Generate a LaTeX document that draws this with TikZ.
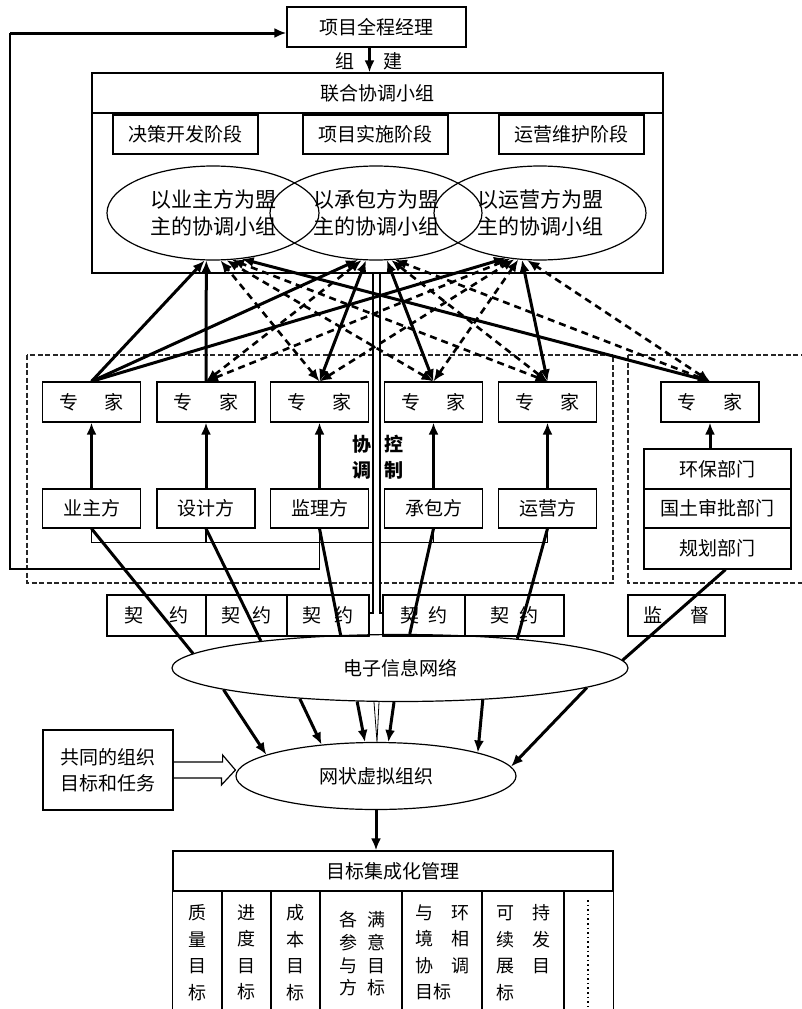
\documentclass[tikz,border=0pt]{standalone}
\usepackage{fontspec}
\setmainfont{Noto Sans CJK SC}
\usepackage{tikz}
\usetikzlibrary{arrows.meta,shapes.geometric}

\newcommand{\mfont}{\fontsize{19pt}{26pt}\selectfont}
\newcommand{\efont}{\fontsize{21pt}{27pt}\selectfont}
\newcommand{\tfont}{\fontsize{18pt}{26.5pt}\selectfont}
\newcommand{\sfont}{\fontsize{18pt}{22.7pt}\selectfont}

\tikzset{
	box/.style={draw, line width=1.2pt, inner sep=0pt, font=\mfont},
	oval/.style={draw, ellipse, line width=1.2pt, inner sep=0pt},
	wire/.style={line width=1.2pt},
	heavy/.style={line width=3pt},
	link/.style={line width=3pt, -{Latex[length=12pt,width=10pt]}},
	blink/.style={line width=3pt, {Latex[length=12pt,width=10pt]}-{Latex[length=12pt,width=10pt]}},
	dlink/.style={line width=2.6pt, dash pattern=on 7pt off 5pt, {Latex[length=12pt,width=10pt]}-{Latex[length=12pt,width=10pt]}},
	frame/.style={line width=2.2pt, dash pattern=on 5pt off 2.5pt, black!85}
}

\begin{document}
\begin{tikzpicture}[x=1pt,y=-1pt]
	\useasboundingbox (0,0) rectangle (802,1009);
	\clip (0,0) rectangle (802,1009);

	% Manager and joint group
	\node[box, minimum width=179pt, minimum height=40pt] (mgr) at (376.5,27) {项目全程经理};
	\node[box, minimum width=571pt, minimum height=200pt] (jointbox) at (377.5,173) {};
	\node[box, minimum width=571pt, minimum height=40pt] (joint) at (377.5,93) {联合协调小组};
	\draw[link] ([xshift=-7pt]mgr.south) -- ([xshift=-7pt]mgr.south |- joint.north);
	\node[font=\mfont] (zu) at (345,61) {组};
	\node[font=\mfont] (jian) at (393,61) {建};

	% Stages
	\node[box, minimum width=145pt, minimum height=39pt] (st1) at (185.5,134.5) {决策开发阶段};
	\node[box, minimum width=145pt, minimum height=39pt] (st2) at (375.5,134.5) {项目实施阶段};
	\node[box, minimum width=145pt, minimum height=39pt] (st3) at (571.5,134.5) {运营维护阶段};

	% Alliance groups
	\node[oval, minimum width=212pt, minimum height=94pt, font=\efont, align=left] (ell1) at (213,213) {以业主方为盟\\主的协调小组};
	\node[oval, minimum width=212pt, minimum height=94pt, font=\efont, align=left] (ell2) at (376,213) {以承包方为盟\\主的协调小组};
	\node[oval, minimum width=212pt, minimum height=94pt, font=\efont, align=left] (ell3) at (540,213) {以运营方为盟\\主的协调小组};

	% Dashed frames
	\draw[frame] (27,355) rectangle (613,583);
	\draw[frame] (628,355) rectangle (815,583);

	% Parties and experts
	\foreach \i/\x/\lbl in {1/91.5/业主方, 2/206/设计方, 3/319.5/监理方, 4/433.5/承包方, 5/547.5/运营方}{
		\node[box, minimum width=98pt, minimum height=40pt] (ex\i) at (\x,402) {专\hspace{1.4em}家};
		\node[box, minimum width=98pt, minimum height=39pt] (p\i) at (\x,508.5) {\lbl};
		\draw[link] (p\i) -- (ex\i);
		\draw[wire] (p\i.south) -- ++(0,14);
	}
	\node[box, minimum width=98pt, minimum height=40pt] (ex6) at (710,402) {专\hspace{1.4em}家};
	\node[box, minimum width=147pt, minimum height=40pt] (g1) at (717.5,469) {环保部门};
	\node[box, minimum width=147pt, minimum height=39pt] (g2) at (717.5,508.5) {国土审批部门};
	\node[box, minimum width=147pt, minimum height=41pt] (g3) at (717.5,548.5) {规划部门};
	\draw[link] (ex6.south |- g1.north) -- (ex6.south);

	% Bracket and feedback loop
	\draw[wire] ([yshift=-14pt]p1.south) -- ([yshift=-14pt]p5.south);
	\coordinate (fb1) at (10,569);
	\coordinate (fb2) at (10,33);
	\draw[wire] (p3.south) |- (fb1) -- (fb2);
	\draw[link] (fb2) -- (fb2 -| mgr.west);

	% Contracts
	\foreach \i/\x/\w/\g in {1/156.5/99pt/1.4em, 2/246.5/81pt/0.6em, 3/328/82pt/0.7em, 4/424/82pt/0.5em, 5/514.5/99pt/0.5em}
		\node[box, minimum width=\w, minimum height=41pt] (c\i) at (\x,615.5) {契\hspace{\g}约};
	\node[box, minimum width=97pt, minimum height=41pt] (jd) at (676.5,615.5) {监\hspace{1.5em}督};

	% Central channel
	\fill[white] (373,274) -- (373,613) -- (369,613) -- (369,636) -- (383,636) -- (383,613) -- (380,613) -- (380,274) -- cycle;
	\draw[wire] (373,274) -- (373,613) -- (369,613) -- (369,636);
	\draw[wire] (380,274) -- (380,613) -- (383,613) -- (383,636);
	\node[font=\mfont\bfseries, align=center] (xt) at (362,457) {协\\调};
	\node[font=\mfont\bfseries, align=center] (kz) at (394,457) {控\\制};

	% Owner's expert
	\draw[link] (ex1.north) -- (ell1.260);
	\draw[link] (ex1.north) -- (ell2.249);
	\draw[link] (ex1.north) -- (ell3.233);
	% Designer's expert
	\draw[link] (ex2.north) -- (ell1.262);
	\draw[dlink] (ex2.north) -- (ell2.253);
	\draw[dlink] (ex2.north) -- (ell3.237);
	% Supervisor's expert
	\draw[dlink] (ex3.north) -- (ell1.279);
	\draw[blink] (ex3.north) -- (ell2.258);
	\draw[dlink] (ex3.north) -- (ell3.241);
	% Contractor's expert
	\draw[dlink] (ex4.north) -- (ell1.286);
	\draw[blink] (ex4.north) -- (ell2.283);
	\draw[dlink] (ex4.north) -- (ell3.245);
	% Operator's expert
	\draw[dlink] (ex5.north) -- (ell1.292);
	\draw[dlink] (ex5.north) -- (ell2.288);
	\draw[blink] (ex5.north) -- (ell3.249);
	% Government expert
	\draw[blink] (ex6.north) -- (ell1.302);
	\draw[dlink] (ex6.north) -- (ell2.292);
	\draw[dlink] (ex6.north) -- (ell3.255);

	% Network
	\node[oval, minimum width=456pt, minimum height=67pt, font=\mfont] (net) at (400,668) {电子信息网络};
	\foreach \i/\a in {1/176, 2/169, 3/151, 4/74, 5/14}
		\draw[heavy] (p\i.south) -- (net.\a);
	\draw[heavy] ([xshift=8pt]g3.south) -- (net.2);

	% Virtual organisation
	\node[oval, minimum width=280pt, minimum height=67pt, font=\mfont] (vorg) at (376,776) {网状虚拟组织};
	\draw[link] (net.187) -- (vorg.169);
	\draw[link] (net.197) -- (vorg.150);
	\draw[link] (net.218) -- (vorg.108);
	\draw[link] (net.260) -- (vorg.70);
	\draw[link] (net.339) -- (vorg.13);
	\draw[link] (net.354) -- (vorg.4);
	\draw[line width=0.8pt] ([xshift=-26pt]net.south) -- ([xshift=1pt]vorg.north) -- ([xshift=-21pt]net.south);

	% Common goal
	\node[box, minimum width=130pt, minimum height=80pt, align=center] (goal) at (108,770) {共同的组织\\目标和任务};
	\draw[wire] ([yshift=8pt]goal.east) -- ++(49,0) -- ++(0,-7) -- (goal.east -| vorg.west) -- ++(-14,15) -- ++(0,-7) -- ([yshift=-8pt]goal.east);

	% Target management
	\node[box, minimum width=440pt, minimum height=40pt] (tgt) at (393,871) {目标集成化管理};
	\draw[link] (vorg.south) -- (vorg.south |- tgt.north);
	\draw[wire] (tgt.south west) -- ++(0,130);
	\draw[wire] (tgt.south east) -- ++(0,130);
	\foreach \x in {222,271,320,402,482,564}
		\draw[wire] (\x,891) -- (\x,1010);
	\node[font=\tfont, align=center, inner sep=0pt] (q1) at (197.5,952.5) {质\\量\\目\\标};
	\node[font=\tfont, align=center, inner sep=0pt] (q2) at (246.5,952.5) {进\\度\\目\\标};
	\node[font=\tfont, align=center, inner sep=0pt] (q3) at (295.5,952.5) {成\\本\\目\\标};
	\node[font=\sfont, align=left, inner sep=0pt] (q4) at (362.5,954) {各\hspace{0.6em}满\\参\hspace{0.6em}意\\与\hspace{0.6em}目\\方\hspace{0.6em}标};
	\node[font=\tfont, align=left, inner sep=0pt] (q5) at (442.5,952.5) {与\hspace{0.95em}环\\境\hspace{0.95em}相\\协\hspace{0.95em}调\\目标};
	\node[font=\tfont, align=left, inner sep=0pt] (q6) at (523.5,952.5) {可\hspace{1.05em}持\\续\hspace{1.05em}发\\展\hspace{1.05em}目\\标};
	\draw[line width=1.6pt, dash pattern=on 1.6pt off 3pt] (588,900) -- (588,1010);
\end{tikzpicture}
\end{document}
